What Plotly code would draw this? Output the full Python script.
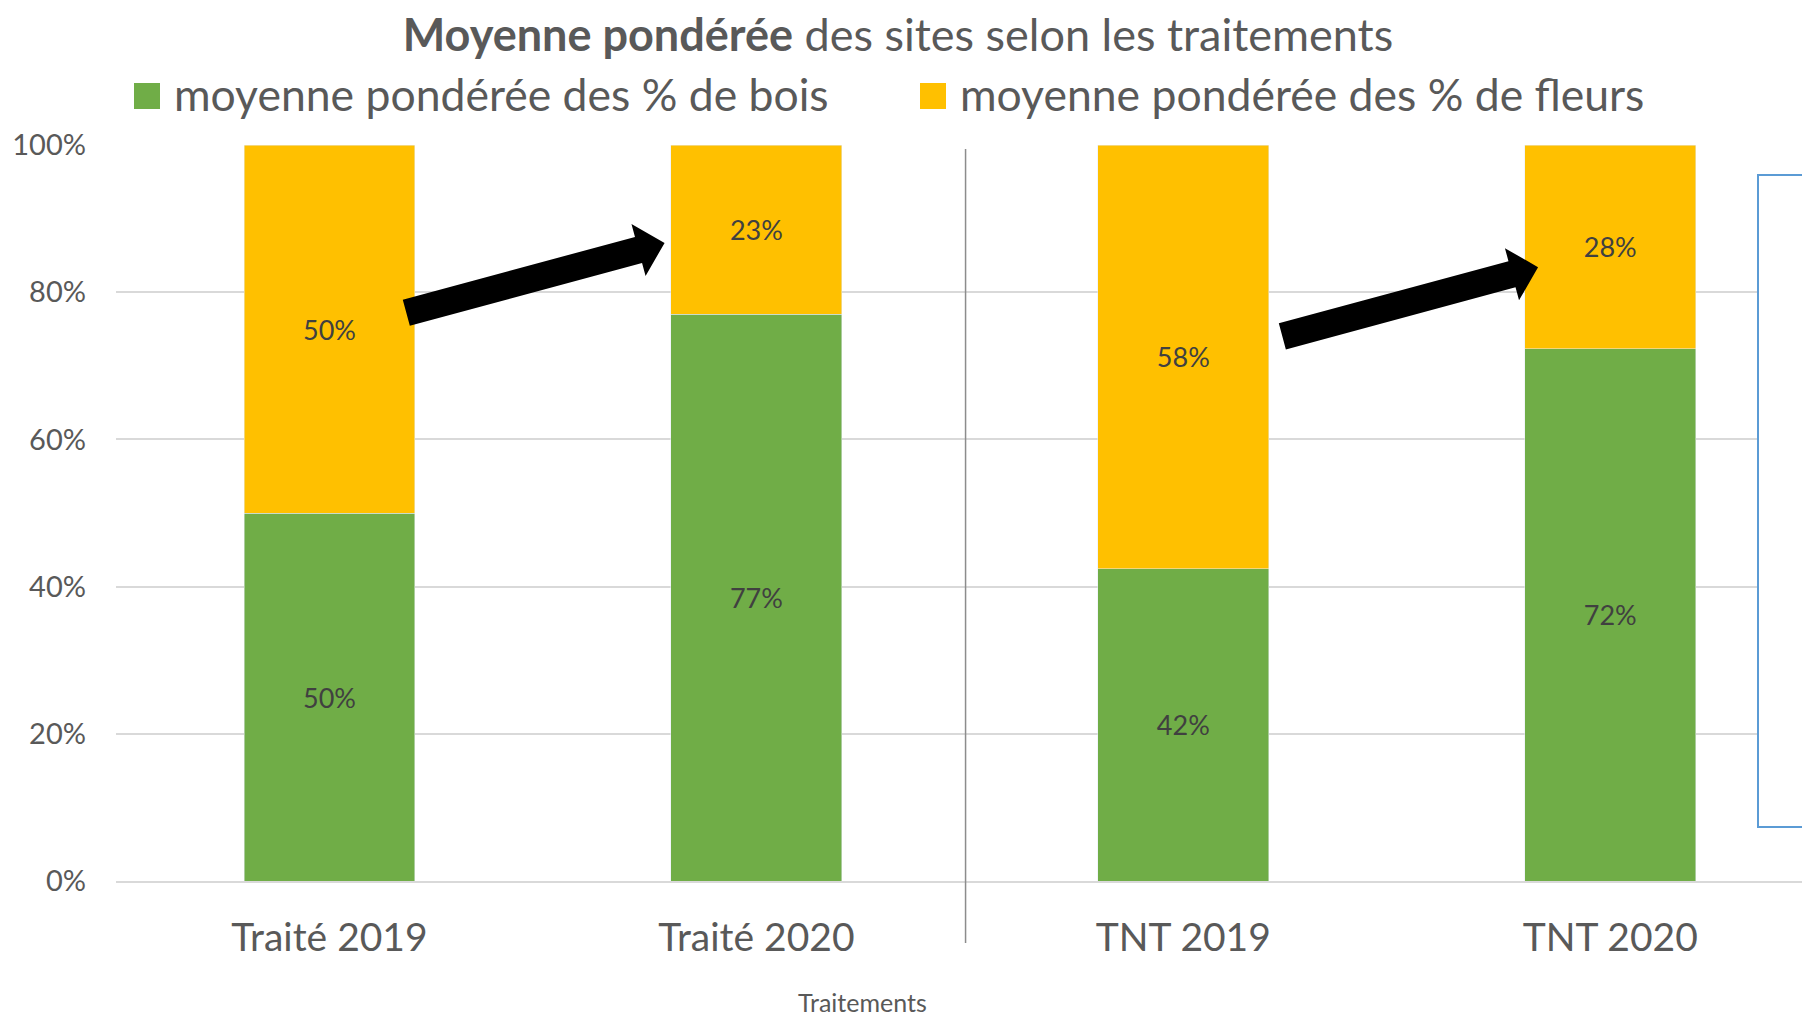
import plotly.graph_objects as go

# ---- data ----
categories = ["Traité 2019", "Traité 2020", "TNT 2019", "TNT 2020"]
bois = [0.50, 0.77, 0.424, 0.723]
fleurs = [0.50, 0.23, 0.576, 0.277]
series_names = ["moyenne pondérée des % de bois", "moyenne pondérée des % de fleurs"]
y_ticks = [0, 0.2, 0.4, 0.6, 0.8, 1.0]

# arrows: (tail x, tail y, tip x, tip y) in data units (category index, fraction)
arrows = [(0.180, 0.772, 0.785, 0.867), (2.232, 0.740, 2.831, 0.834)]

GREEN = "#70AD47"
YELLOW = "#FFC000"
TXT = "#595959"
FONT = "Lato"

OFF = 8  # page body margin
W, H = 1810 - OFF, 1016 - OFF
ML, MR, MT, MB = 116 - OFF, 0, 145 - OFF, 1016 - 881
XR = [-0.5, 3.468]
PW, PH = W - ML - MR, H - MT - MB


def d2px(x, y):
    return ML + (x - XR[0]) / (XR[1] - XR[0]) * PW, MT + (1 - y) * PH


def px2paper(px, py):
    # px, py are page pixels of the reference; convert to figure paper coords
    px, py = px - OFF, py - OFF
    return (px - ML) / PW, (H - MB - py) / PH


def fig2paper(px, py):
    return (px - ML) / PW, (H - MB - py) / PH


def arrow_path(tx, ty, hx, hy, sw=13.5, hw=27, hl=27):
    x0, y0 = d2px(tx, ty)
    x1, y1 = d2px(hx, hy)
    dx, dy = x1 - x0, y1 - y0
    L = (dx * dx + dy * dy) ** 0.5
    ux, uy = dx / L, dy / L
    nx, ny = -uy, ux
    bx, by = x1 - ux * hl, y1 - uy * hl
    pts = [
        (x0 + nx * sw, y0 + ny * sw),
        (bx + nx * sw, by + ny * sw),
        (bx + nx * hw, by + ny * hw),
        (x1, y1),
        (bx - nx * hw, by - ny * hw),
        (bx - nx * sw, by - ny * sw),
        (x0 - nx * sw, y0 - ny * sw),
    ]
    pp = [fig2paper(a, b) for a, b in pts]
    return "M " + " L ".join(f"{a:.5f},{b:.5f}" for a, b in pp) + " Z"


fig = go.Figure()
fig.add_trace(go.Bar(x=categories, y=bois, name=series_names[0], marker_color=GREEN,
                     texttemplate="%{y:.0%}", textposition="inside", insidetextanchor="middle",
                     textfont=dict(size=27, color="#404040", family=FONT), showlegend=False,
                     constraintext="none"))
fig.add_trace(go.Bar(x=categories, y=fleurs, name=series_names[1], marker_color=YELLOW,
                     texttemplate="%{y:.0%}", textposition="inside", insidetextanchor="middle",
                     textfont=dict(size=27, color="#404040", family=FONT), showlegend=False,
                     constraintext="none"))

shapes = []
# separator line
shapes.append(dict(type="line", xref="x", yref="paper", x0=1.49, x1=1.49,
                   y0=px2paper(0, 943)[1], y1=px2paper(0, 149)[1],
                   line=dict(color="#8C8C8C", width=1.5), layer="above"))
# arrows
for a in arrows:
    shapes.append(dict(type="path", xref="paper", yref="paper", path=arrow_path(*a),
                       fillcolor="black", line=dict(width=0), layer="above"))
# partial text box on the right
bx0, by0 = px2paper(1758, 827)
bx1, by1 = px2paper(1830, 175)
shapes.append(dict(type="rect", xref="paper", yref="paper", x0=bx0, x1=bx1, y0=by0, y1=by1,
                   fillcolor="white", line=dict(color="#5B9BD5", width=2), layer="above"))
tri = [px2paper(1805, 257), px2paper(1809, 242), px2paper(1811, 242), px2paper(1811, 257)]
shapes.append(dict(type="path", xref="paper", yref="paper",
                   path="M " + " L ".join(f"{a:.5f},{b:.5f}" for a, b in tri) + " Z",
                   fillcolor="black", line=dict(width=0), layer="above"))

# manual legend (large square keys)
legend_items = [(series_names[0], GREEN, 134), (series_names[1], YELLOW, 920)]
annotations = []
for name, col, x in legend_items:
    sx0, sy0 = px2paper(x, 109)
    sx1, sy1 = px2paper(x + 26, 83)
    shapes.append(dict(type="rect", xref="paper", yref="paper", x0=sx0, x1=sx1, y0=sy0, y1=sy1,
                       fillcolor=col, line=dict(width=0)))
    tx, ty = px2paper(x + 38, 94)
    annotations.append(dict(text=name, xref="paper", yref="paper", x=tx, y=ty,
                            xanchor="left", yanchor="middle", showarrow=False,
                            font=dict(size=44.5, color=TXT, family=FONT)))

# x axis title
ax, ay = px2paper(862, 1002)
annotations.append(dict(text="Traitements", xref="paper", yref="paper", x=ax, y=ay,
                        xanchor="center", yanchor="middle", showarrow=False,
                        font=dict(size=25, color=TXT, family=FONT)))

fig.update_layout(
    width=W, height=H,
    margin=dict(l=ML, r=MR, t=MT, b=MB, autoexpand=False),
    paper_bgcolor="white", plot_bgcolor="white",
    barmode="stack", bargap=0.6,
    title=dict(text="<b>Moyenne pondérée</b> des sites selon les traitements",
               x=(898 - OFF) / W, xanchor="center", y=1 - (35 - OFF) / H, yanchor="middle",
               font=dict(size=45, color=TXT, family=FONT)),
    font=dict(family=FONT, color=TXT),
    showlegend=False,
    shapes=shapes, annotations=annotations,
    uniformtext=dict(mode=False),
)
fig.update_xaxes(type="category", range=XR, showgrid=False, showline=True,
                 linecolor="#D9D9D9", linewidth=1.5, ticks="",
                 tickfont=dict(size=39, color=TXT, family=FONT), ticklabelstandoff=21)
fig.update_yaxes(range=[0, 1], tickvals=y_ticks, tickformat=".0%", showgrid=True,
                 gridcolor="#D9D9D9", gridwidth=1.5, zeroline=False, showline=False, ticks="",
                 tickfont=dict(size=29, color=TXT, family=FONT), ticklabelstandoff=29)

fig.write_html("out.html")
